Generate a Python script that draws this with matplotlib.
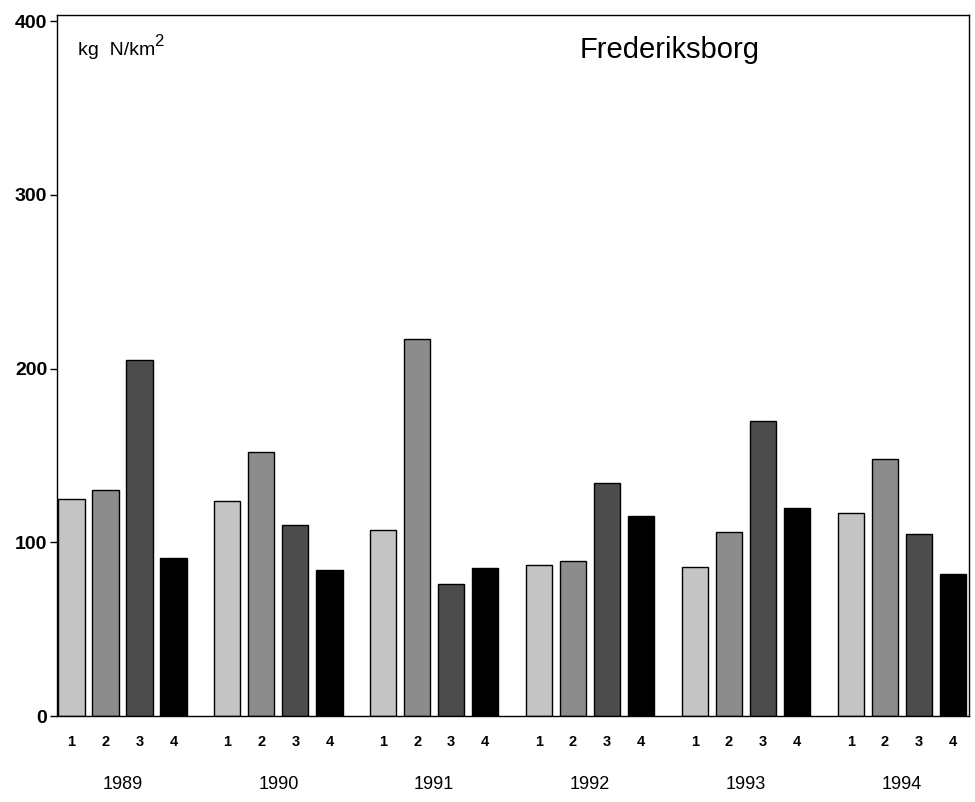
import numpy as np
import matplotlib.pyplot as plt
import matplotlib.transforms as mtransforms

plt.rcParams['font.family'] = ['Liberation Sans', 'DejaVu Sans']

years = ['1989', '1990', '1991', '1992', '1993', '1994']
quarters = ['1', '2', '3', '4']
q1 = [125, 124, 107, 87, 86, 117]
q2 = [130, 152, 217, 89, 106, 148]
q3 = [205, 110, 76, 134, 170, 105]
q4 = [91, 84, 85, 115, 120, 82]
yticks = [0, 100, 200, 300, 400]

colors = ['#c4c4c4', '#8c8c8c', '#4c4c4c', '#000000']
group_step = 4.58
width = 0.77

fig = plt.figure(figsize=(9.75, 8.02), dpi=100)
ax = fig.add_axes([0.0585, 0.1072, 0.9353, 0.8741])

groups = np.arange(len(years)) * group_step
xpos = []
for i, vals in enumerate([q1, q2, q3, q4]):
    x = groups + i
    ax.bar(x, vals, width=width, color=colors[i], edgecolor='black', linewidth=1.0)
    xpos.append(x)

ax.set_xlim(-width / 2 - 0.04, groups[-1] + 3 + width / 2 + 0.09)
ax.set_ylim(0, 403.5)
ax.set_yticks(yticks)
ax.set_yticklabels([str(v) for v in yticks], fontsize=14, fontweight='bold')
ax.tick_params(axis='y', direction='out', length=5, width=1, pad=2)

allx = np.sort(np.concatenate(xpos))
ax.set_xticks(allx)
ax.set_xticklabels(quarters * len(years), fontsize=10.5, fontweight='bold')
ax.tick_params(axis='x', length=0, pad=14)

trans = mtransforms.blended_transform_factory(ax.transData, ax.transAxes)
for g, yr in zip(groups, years):
    ax.text(g + 1.5, -0.098, yr, transform=trans, ha='center', va='center', fontsize=13)

for s in ax.spines.values():
    s.set_linewidth(1.0)

ax.text(0.023, 0.95, 'kg  N/km', transform=ax.transAxes,
        fontsize=14, va='center', ha='left')
ax.text(0.106, 0.962, '2', transform=ax.transAxes,
        fontsize=12, va='center', ha='left')
ax.text(0.672, 0.95, 'Frederiksborg', transform=ax.transAxes,
        fontsize=21, va='center', ha='center')

fig.savefig('out.png', dpi=100)
